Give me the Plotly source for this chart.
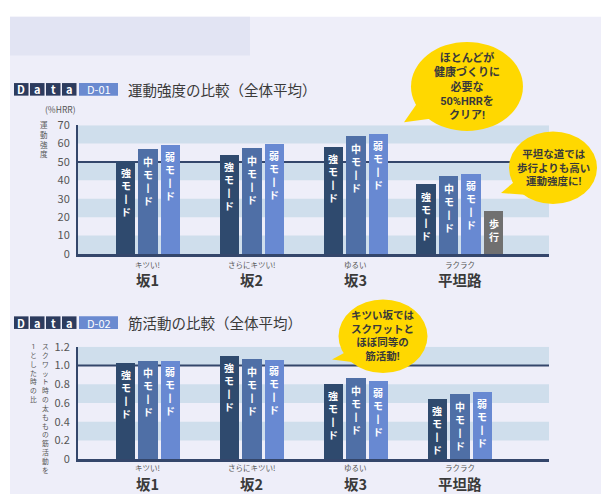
import plotly.graph_objects as go

W, H = 601, 501

# ---- data ----
places = ["坂1", "坂2", "坂3", "平坦路"]
place_notes = ["キツい!", "さらにキツい!", "ゆるい", "ラクラク"]
mode_names = ["強モード", "中モード", "弱モード", "歩行"]

# exercise intensity (%HRR)
hrr_strong = [50.4, 53.8, 58.0, 37.7]
hrr_mid = [57.2, 57.5, 63.9, 42.5]
hrr_weak = [59.1, 59.5, 65.1, 43.2]
hrr_walk = [None, None, None, 23.2]
hrr_ticks = [0, 10, 20, 30, 40, 50, 60, 70]

# thigh muscle activity, squat = 1
emg_strong = [1.03, 1.10, 0.80, 0.64]
emg_mid = [1.055, 1.07, 0.87, 0.70]
emg_weak = [1.055, 1.065, 0.84, 0.72]
emg_ticks = [0, 0.2, 0.4, 0.6, 0.8, 1.0, 1.2]
emg_tick_text = ["0", "0.2", "0.4", "0.6", "0.8", "1.0", "1.2"]

# ---- style ----
FONT = "Noto Sans CJK JP"
# multi-line labels: compact Latin face first, CJK glyphs come from the Noto face
FONT_STACK = "Roboto, Noto Sans CJK JP"
BAR_COLORS = ["#2f4a6e", "#4f6fa6", "#6889d2", "#707070"]
NAVY = "#34466b"
BAND = "#cfdeec"
PLOT_BG = "#f3f3fc"
PAGE_BG = "#eeeef9"
YELLOW = "#ffd800"
TEXT = "#3a3a3a"
PITCH = 0.2163
BAR_W = 0.1875
X_RANGE = [-0.673, 3.856]


def px(x):
    return x / W


def py(y):
    return 1 - y / H


fig = go.Figure()
shapes = []
annotations = []


def note(x, y, text, font, xref="paper", yref="paper", xanchor="center", yanchor="middle", **kw):
    annotations.append(dict(x=x, y=y, xref=xref, yref=yref, text=text, showarrow=False,
                            xanchor=xanchor, yanchor=yanchor, font=font, **kw))


def stacked(text):
    """Upright vertical writing: one character per line, long vowel as a vertical stroke."""
    return "<br>".join(text.replace("ー", "丨"))


def add_chart(series, xa, ya):
    n_groups = len(places)
    for si, vals in enumerate(series):
        xs, ys = [], []
        for g in range(n_groups):
            if vals[g] is None:
                continue
            present = [k for k in range(len(series)) if series[k][g] is not None]
            k = present.index(si)
            x = g + (k - (len(present) - 1) / 2) * PITCH
            xs.append(x)
            ys.append(vals[g])
            note(x, vals[g], stacked(mode_names[si]),
                 dict(family=FONT_STACK, size=10, color="white", weight="bold"),
                 xref=xa, yref=ya, yanchor="top", yshift=-6, borderpad=0)
        fig.add_trace(go.Bar(
            x=xs, y=ys, width=BAR_W, name=mode_names[si],
            marker=dict(color=BAR_COLORS[si], line=dict(width=0)),
            xaxis=xa, yaxis=ya, showlegend=False, hoverinfo="skip",
        ))


add_chart([hrr_strong, hrr_mid, hrr_weak, hrr_walk], "x", "y")
add_chart([emg_strong, emg_mid, emg_weak], "x2", "y2")

# page background panels
shapes.append(dict(type="rect", xref="paper", yref="paper", x0=px(10), x1=px(601),
                   y0=py(501), y1=py(8), fillcolor=PAGE_BG, line_width=0, layer="below"))
shapes.append(dict(type="rect", xref="paper", yref="paper", x0=px(10), x1=px(250),
                   y0=py(48), y1=py(8), fillcolor="#e2e4f3", line_width=0, layer="below"))

# alternating bands and the reference line
for y0 in (0, 20, 40, 60):
    shapes.append(dict(type="rect", xref="x domain", yref="y", x0=0, x1=1,
                       y0=y0, y1=y0 + 10, fillcolor=BAND, line_width=0, layer="below"))
for y0 in (0.2, 0.6, 1.0):
    shapes.append(dict(type="rect", xref="x2 domain", yref="y2", x0=0, x1=1,
                       y0=y0, y1=y0 + 0.2, fillcolor=BAND, line_width=0, layer="below"))
shapes.append(dict(type="line", xref="x domain", yref="y", x0=0, x1=1, y0=50, y1=50,
                   line=dict(color=NAVY, width=2), layer="below"))
shapes.append(dict(type="line", xref="x2 domain", yref="y2", x0=0, x1=1, y0=1.0, y1=1.0,
                   line=dict(color=NAVY, width=2), layer="below"))


def header(top, code, title):
    bottom = top + 13
    mid = top + 6.5
    for i, ch in enumerate("Data"):
        x0 = 14 + i * 16
        shapes.append(dict(type="rect", xref="paper", yref="paper", x0=px(x0), x1=px(x0 + 14.5),
                           y0=py(bottom), y1=py(top), fillcolor="#2c3b5e", line_width=0))
        note(px(x0 + 7.25), py(mid), ch, dict(family=FONT, size=11, color="white", weight="bold"))
    shapes.append(dict(type="rect", xref="paper", yref="paper", x0=px(79), x1=px(118),
                       y0=py(bottom), y1=py(top), fillcolor="#6a8ad0", line_width=0))
    note(px(98.5), py(mid), code, dict(family=FONT, size=11, color="white"))
    note(px(126), py(mid), title, dict(family=FONT, size=14.5, color=TEXT), xanchor="left")


header(76.5, "D-01", "運動強度の比較（全体平均）")
header(317.5, "D-02", "筋活動の比較（全体平均）")

# category labels under each chart: small reading above the place name
for xa, y_small, y_big in (("x", 263.5, 279.5), ("x2", 474, 490)):
    for g, (name, sub) in enumerate(zip(places, place_notes)):
        note(g, py(y_small), sub, dict(family=FONT, size=7.5, color="#555"), xref=xa)
        note(g, py(y_big), name, dict(family=FONT, size=14.5, color=TEXT, weight="bold"),
             xref=xa)

# axis titles
note(px(60), py(103), "(%HRR)", dict(family=FONT, size=8.5, color="#555"))
note(px(44), py(114), stacked("運動強度"), dict(family=FONT_STACK, size=7.5, color="#555"),
     yanchor="top", borderpad=0)
note(px(45), py(344), stacked("スクワット時の太ももの筋活動を"),
     dict(family=FONT_STACK, size=6.8, color="#555"), yanchor="top", borderpad=0)
note(px(33), py(344), stacked("1とした時の比"),
     dict(family=FONT_STACK, size=6.8, color="#555"), yanchor="top", borderpad=0)


# speech bubbles
def bubble(cx, cy, rx, ry, tail, lines, size):
    shapes.append(dict(type="circle", xref="paper", yref="paper",
                       x0=px(cx - rx), x1=px(cx + rx), y0=py(cy + ry), y1=py(cy - ry),
                       fillcolor=YELLOW, line_width=0))
    (ax, ay), (bx, by), (tx, ty) = tail
    path = f"M {px(ax)} {py(ay)} L {px(tx)} {py(ty)} L {px(bx)} {py(by)} Z"
    shapes.append(dict(type="path", xref="paper", yref="paper", path=path,
                       fillcolor=YELLOW, line_width=0))
    note(px(cx), py(cy), "<br>".join(lines),
         dict(family=FONT_STACK, size=size, color=TEXT, weight="bold"), align="center")


bubble(467, 80, 56, 46, ((418, 96), (432, 113), (404, 117)),
       ["ほとんどが", "健康づくりに", "必要な", "50%HRRを", "クリア!"], 11)
bubble(553, 164, 44, 37.5, ((515, 178), (525, 192), (501, 190)),
       ["平坦な道では", "歩行よりも高い", "運動強度に!"], 10.5)
bubble(383, 338, 44.5, 38, ((350, 352), (362, 366), (332, 362)),
       ["キツい坂では", "スクワットと", "ほぼ同等の", "筋活動!"], 10.5)

x_common = dict(range=X_RANGE, domain=[px(78), px(549)], showgrid=False, zeroline=False,
                showticklabels=False, showline=True, linecolor=NAVY, linewidth=3,
                fixedrange=True)
y_common = dict(showgrid=False, zeroline=False, showline=True, linecolor=NAVY, linewidth=2,
                ticks="", ticklabelstandoff=4, fixedrange=True,
                tickfont=dict(family=FONT, size=11, color="#555"))

fig.update_layout(
    width=W, height=H, margin=dict(l=0, r=0, t=0, b=0),
    paper_bgcolor="white", plot_bgcolor=PLOT_BG, bargap=0,
    font=dict(family=FONT),
    xaxis=dict(**x_common, anchor="y"),
    yaxis=dict(**y_common, range=[0, 70], tickvals=hrr_ticks,
               domain=[py(253), py(120)], anchor="x"),
    xaxis2=dict(**x_common, anchor="y2"),
    yaxis2=dict(**y_common, range=[0, 1.2], tickvals=emg_ticks, ticktext=emg_tick_text,
                domain=[py(465), py(349)], anchor="x2"),
    shapes=shapes, annotations=annotations,
)

fig.write_html("out.html")
